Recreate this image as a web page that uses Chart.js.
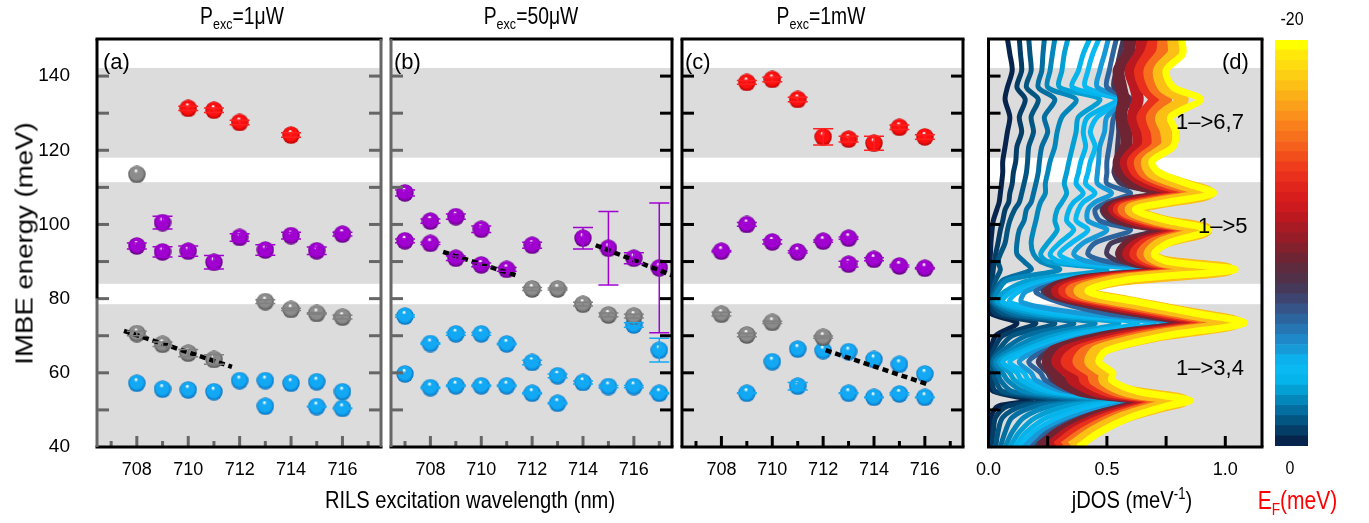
<!DOCTYPE html>
<html lang="en">
<head>
<meta charset="UTF-8">
<title>IMBE energy vs RILS wavelength and jDOS</title>
<script src="https://cdn.jsdelivr.net/npm/chart.js"></script>
<style>
  body { margin:0; background:#fff; width:1369px; height:523px; position:relative; overflow:hidden;
         font-family:'Liberation Sans', Arial, sans-serif; color:#000; }
  canvas { position:absolute; top:0; }
  .lbl { position:absolute; white-space:nowrap; line-height:1; }
  .nar { transform:scaleX(0.84); transform-origin:center; }
  sub { font-size:65%; vertical-align:-0.35em; line-height:0; }
  sup { font-size:65%; vertical-align:0.6em; line-height:0; }
</style>
</head>
<body>
<canvas id="pa" width="390" height="523" style="left:0px"></canvas>
<canvas id="pb" width="299" height="523" style="left:382px"></canvas>
<canvas id="pc" width="299" height="523" style="left:673px"></canvas>
<canvas id="pd" width="302" height="523" style="left:964px"></canvas>
<canvas id="cbar" width="33" height="406" style="left:1275px; top:40px"></canvas>

<div class="lbl nar" style="left:142px; width:200px; top:5px; text-align:center; font-size:23px">P<sub>exc</sub>=1μW</div>
<div class="lbl nar" style="left:431px; width:200px; top:5px; text-align:center; font-size:23px">P<sub>exc</sub>=50μW</div>
<div class="lbl nar" style="left:721px; width:200px; top:5px; text-align:center; font-size:23px">P<sub>exc</sub>=1mW</div>

<div class="lbl" style="left:-100px; width:250px; top:232px; text-align:center; font-size:23px;
     transform:rotate(-90deg) scaleX(1.2)">IMBE energy (meV)</div>

<div class="lbl" style="left:103px; top:51px; font-size:22px">(a)</div>
<div class="lbl" style="left:394px; top:51px; font-size:22px">(b)</div>
<div class="lbl" style="left:685px; top:51px; font-size:22px">(c)</div>
<div class="lbl" style="left:1222px; top:51px; font-size:22px">(d)</div>

<div class="lbl" style="left:1176px; top:111px; font-size:22px">1–&gt;6,7</div>
<div class="lbl" style="left:1198px; top:215px; font-size:22px">1–&gt;5</div>
<div class="lbl" style="left:1176px; top:357px; font-size:22px">1–&gt;3,4</div>

<div class="lbl nar" style="left:270px; width:400px; top:488px; text-align:center; font-size:24px">RILS excitation wavelength (nm)</div>
<div class="lbl nar" style="left:1032px; width:200px; top:488px; text-align:center; font-size:24px">jDOS (meV<sup>-1</sup>)</div>
<div class="lbl nar" style="left:1240px; width:115px; top:488px; text-align:center; font-size:25px; color:#ff0000">E<sub>F</sub>(meV)</div>
<div class="lbl nar" style="left:1262px; width:60px; top:9px; text-align:center; font-size:19px">-20</div>
<div class="lbl nar" style="left:1260px; width:60px; top:458px; text-align:center; font-size:19px">0</div>

<script>
// ---- data ----
// marker series: [wavelength nm, IMBE energy meV, error meV (null = no bar)]
const aRed = [[710,131.3,0.6],[711,130.8,0.6],[712,127.5,0.6],[714,124.1,0.6]];
const aGrayTop = [[708,113.5,null]];
const aPurple = [[708,94.2,0.8],[709,100.5,1.7],[709,92.6,1.4],[710,92.8,1.4],[711,89.8,1.8],
                 [712,96.5,1.0],[713,93.1,1.4],[714,97.0,0.9],[715,92.9,1.0],[716,97.4,0.5]];
const aGray = [[713,79.2,0.5],[714,77.1,0.3],[715,76.0,0.2],[716,75.0,0.5],
               [708,70.6,0.6],[709,67.7,0.6],[710,65.3,1.0],[711,63.6,1.3]];
const aBlue = [[708,57.2,null],[709,55.6,null],[710,55.4,null],[711,54.9,null],[712,57.9,null],
               [713,57.9,null],[713,51.0,null],[714,57.2,null],[715,57.6,null],[715,50.9,0.1],
               [716,54.9,null],[716,50.4,0.1]];
const aFit = [[707.5,71.3],[711.7,61.6]];

const bPurple = [[707,108.5,0.8],[707,95.6,0.5],[708,100.9,0.6],[708,94.9,0.3],[709,102.1,0.7],
                 [709,90.9,0.6],[710,98.7,0.9],[710,89.1,0.5],[711,87.9,0.5],[712,94.4,0.8],
                 [714,96.3,2.9],[715,93.6,9.9],[716,90.9,1.5],[717,88.3,17.5]];
const bGray = [[712,82.6,0.4],[713,82.6,0.3],[714,78.5,0.5],[715,75.6,0.5],[716,75.3,0.5]];
const bBlue = [[707,75.3,0.3],[707,59.7,null],[708,67.9,0.2],[708,56.0,0.2],[709,70.5,0.4],
               [709,56.5,0.2],[710,70.5,0.4],[710,56.5,0.2],[711,67.8,0.2],[711,56.5,0.2],
               [712,62.8,0.6],[712,54.5,0.2],[713,59.2,0.5],[713,51.8,0.2],[714,57.4,0.4],
               [715,56.3,0.3],[716,56.3,0.3],[716,72.9,0.6],[717,66.1,3.2],[717,54.5,0.2]];
const bFit1 = [[708.5,92.6],[711.45,86.1]];
const bFit2 = [[714.5,94.4],[717.6,86.0]];

const cRed = [[709,138.3,0.5],[710,139.1,0.6],[711,133.7,0.6],[712,123.6,2.2],[713,123.0,0.8],
              [714,121.9,1.9],[715,126.2,0.6],[716,123.6,0.6]];
const cPurple = [[708,92.8,0.2],[709,100.0,0.5],[710,95.3,0.6],[711,92.6,0.3],[712,95.5,0.3],
                 [713,96.3,0.3],[713,89.3,0.8],[714,90.6,0.4],[715,88.8,0.3],[716,88.2,0.2]];
const cGray = [[708,75.8,0.5],[709,70.2,0.5],[710,73.6,0.3],[712,69.6,0.3]];
const cBlue = [[710,63.0,null],[711,66.4,null],[712,66.0,null],[713,65.7,null],[714,63.6,null],
               [715,62.3,null],[716,59.7,null],[709,54.5,0.1],[711,56.4,1.0],[713,54.5,0.1],
               [714,53.4,0.1],[715,54.3,0.3],[716,53.4,0.1]];
const cFit = [[712.1,66.1],[716.2,56.7]];

// shaded energy windows (meV)
const bandRanges = [[40,78.5],[84,111.4],[118,142.2]];

// jDOS curves: energy grid (meV) and jDOS (1/meV) for each Fermi energy
const energy = [40,44,48,51,52.6,55,58,60,63,66,70,73.4,76,79,82,85,87.8,90,92,95,
                98.5,101,104,106,108.4,111,114,117,121,125,129,133.7,137,141.5,146,150];
const jdosEF0   = [0.0,0.005,0.01,0.04,0.18,0.02,0.005,0.005,0.005,0.01,0.03,0.12,0.01,0.005,0.005,0.005,0.006,0.006,0.008,0.01,0.015,0.02,0.035,0.045,0.05,0.055,0.06,0.06,0.07,0.08,0.09,0.07,0.08,0.10,0.09,0.08];
const jdosEF0p5 = [0.01,0.02,0.03,0.08,0.25,0.03,0.015,0.01,0.01,0.02,0.06,0.20,0.03,0.01,0.01,0.015,0.02,0.025,0.03,0.04,0.05,0.06,0.07,0.085,0.09,0.10,0.105,0.115,0.12,0.14,0.13,0.155,0.12,0.14,0.135,0.13];
const jdosEF1   = [0.03,0.04,0.06,0.14,0.32,0.06,0.03,0.02,0.015,0.04,0.10,0.28,0.06,0.015,0.02,0.03,0.05,0.04,0.05,0.07,0.08,0.09,0.11,0.13,0.14,0.15,0.16,0.165,0.17,0.19,0.18,0.21,0.16,0.18,0.175,0.17];
const jdosEF1p5 = [0.05,0.07,0.10,0.20,0.40,0.10,0.05,0.04,0.02,0.06,0.16,0.36,0.10,0.02,0.03,0.06,0.18,0.15,0.12,0.12,0.13,0.15,0.16,0.18,0.19,0.20,0.21,0.215,0.225,0.25,0.236,0.28,0.21,0.225,0.23,0.236];
const jdosEF2   = [0.07,0.10,0.15,0.26,0.46,0.15,0.08,0.06,0.03,0.09,0.22,0.45,0.15,0.03,0.04,0.08,0.30,0.22,0.19,0.18,0.19,0.20,0.21,0.22,0.24,0.24,0.25,0.26,0.28,0.29,0.31,0.37,0.25,0.26,0.27,0.28];
const jdosEF2p5 = [0.09,0.13,0.20,0.33,0.52,0.20,0.11,0.09,0.045,0.12,0.28,0.55,0.20,0.04,0.07,0.18,0.50,0.25,0.22,0.25,0.29,0.28,0.29,0.31,0.33,0.32,0.33,0.34,0.355,0.37,0.38,0.47,0.30,0.31,0.32,0.335];
const jdosEF3   = [0.11,0.16,0.25,0.40,0.57,0.25,0.14,0.12,0.06,0.15,0.33,0.63,0.26,0.06,0.10,0.25,0.62,0.30,0.26,0.30,0.36,0.33,0.34,0.36,0.40,0.37,0.38,0.39,0.41,0.40,0.42,0.54,0.355,0.38,0.40,0.427];
const jdosEF3p5 = [0.13,0.19,0.30,0.46,0.61,0.29,0.17,0.15,0.09,0.18,0.38,0.70,0.32,0.09,0.13,0.30,0.68,0.36,0.30,0.35,0.42,0.37,0.38,0.40,0.45,0.41,0.42,0.43,0.45,0.43,0.46,0.56,0.41,0.42,0.44,0.466];
const jdosEF4p5 = [0.15,0.22,0.35,0.52,0.64,0.32,0.20,0.18,0.13,0.21,0.42,0.76,0.40,0.14,0.16,0.34,0.74,0.42,0.36,0.40,0.50,0.42,0.42,0.45,0.52,0.46,0.46,0.465,0.47,0.49,0.50,0.58,0.46,0.47,0.49,0.506];
const jdosEF6   = [0.18,0.25,0.39,0.56,0.66,0.35,0.24,0.22,0.17,0.24,0.46,0.82,0.50,0.30,0.20,0.36,0.80,0.50,0.42,0.45,0.60,0.47,0.45,0.50,0.60,0.50,0.50,0.50,0.51,0.52,0.53,0.59,0.50,0.51,0.525,0.54];
const jdosEF7p5 = [0.20,0.28,0.42,0.59,0.68,0.38,0.27,0.25,0.21,0.26,0.49,0.86,0.60,0.36,0.23,0.38,0.85,0.56,0.50,0.52,0.70,0.52,0.48,0.54,0.70,0.56,0.53,0.54,0.545,0.55,0.55,0.60,0.53,0.54,0.555,0.57];
const jdosEF9   = [0.22,0.30,0.44,0.62,0.70,0.40,0.30,0.28,0.25,0.28,0.52,0.90,0.68,0.42,0.26,0.40,0.88,0.62,0.56,0.60,0.78,0.58,0.50,0.58,0.80,0.62,0.56,0.55,0.58,0.58,0.56,0.57,0.56,0.55,0.59,0.60];
const jdosEF11  = [0.26,0.34,0.48,0.65,0.73,0.46,0.36,0.34,0.29,0.33,0.58,0.94,0.73,0.47,0.29,0.44,0.92,0.66,0.59,0.64,0.84,0.63,0.53,0.63,0.85,0.68,0.60,0.58,0.63,0.63,0.61,0.63,0.62,0.60,0.64,0.65];
const jdosEF13  = [0.29,0.37,0.51,0.68,0.76,0.51,0.41,0.40,0.33,0.38,0.63,0.98,0.77,0.52,0.32,0.48,0.95,0.69,0.62,0.67,0.88,0.67,0.55,0.67,0.88,0.73,0.63,0.61,0.67,0.67,0.65,0.70,0.66,0.64,0.68,0.70];
const jdosEF15  = [0.32,0.41,0.54,0.70,0.79,0.55,0.45,0.44,0.38,0.42,0.67,1.01,0.81,0.56,0.35,0.52,0.98,0.72,0.65,0.70,0.90,0.70,0.57,0.70,0.91,0.77,0.66,0.64,0.71,0.71,0.69,0.75,0.70,0.68,0.73,0.74];
const jdosEF17p5= [0.35,0.44,0.57,0.73,0.82,0.59,0.49,0.49,0.43,0.46,0.71,1.045,0.85,0.60,0.385,0.55,1.01,0.74,0.68,0.73,0.92,0.73,0.60,0.73,0.93,0.81,0.69,0.67,0.75,0.75,0.73,0.82,0.74,0.72,0.78,0.78];
const jdosEF20  = [0.38,0.47,0.60,0.75,0.85,0.63,0.52,0.525,0.466,0.50,0.75,1.08,0.88,0.64,0.42,0.58,1.04,0.76,0.70,0.76,0.93,0.76,0.62,0.76,0.95,0.84,0.72,0.69,0.78,0.79,0.77,0.895,0.78,0.75,0.82,0.815];

const fermiLevels = [0,-0.5,-1,-1.5,-2,-2.5,-3,-3.5,-4.5,-6,-7.5,-9,-11,-13,-15,-17.5,-20];
const jdosCurves = [jdosEF0,jdosEF0p5,jdosEF1,jdosEF1p5,jdosEF2,jdosEF2p5,jdosEF3,jdosEF3p5,jdosEF4p5,
                    jdosEF6,jdosEF7p5,jdosEF9,jdosEF11,jdosEF13,jdosEF15,jdosEF17p5,jdosEF20];

// colour scale, E_F = 0 (bottom) ... -20 meV (top), 0.5 meV per step
const efPalette = ['#06244c','#043e66','#035682','#046ea0','#0488bc','#04a0d4','#06b4ec','#0ab8f2',
  '#0cb0ec','#169ad8','#1f88c8','#2676b4','#2c649e','#365488','#3e4470','#463858','#523048','#5e2a3e',
  '#6e2432','#82202c','#961c28','#a81a24','#bc1820','#cc1a1e','#d81e1c','#e0261c','#e8301c','#ee3c1c',
  '#f24e1c','#f5601c','#f7701c','#f9801c','#fb901c','#fba01a','#fbb018','#fcbf16','#fdcf14','#fedc10',
  '#ffe80a','#ffff00'];

// ---- drawing ----
Chart.defaults.font.family = "'Liberation Sans', Arial, sans-serif";
Chart.defaults.color = '#000';

function ball(color, dark) {
  const c = document.createElement('canvas');
  c.width = 18; c.height = 18;
  const g = c.getContext('2d');
  const grad = g.createRadialGradient(8, 5, 0.5, 9, 9, 9);
  grad.addColorStop(0, '#ffffff');
  grad.addColorStop(0.2, color);
  grad.addColorStop(0.7, color);
  grad.addColorStop(1, dark);
  g.fillStyle = grad;
  g.beginPath(); g.arc(9, 9, 8.7, 0, Math.PI * 2); g.fill();
  return c;
}
const redBall = ball('#ff1010', '#b00000');
const purpleBall = ball('#a000d0', '#5c0078');
const grayBall = ball('#8c8c8c', '#4c4c4c');
const blueBall = ball('#12a8f4', '#0a6cb8');

function markers(arr, img, errColor) {
  return { data: arr.map(p => ({x: p[0], y: p[1]})), errs: arr.map(p => p[2]), errColor,
           pointStyle: img, pointRadius: 8, showLine: false, order: 2 };
}
function fitLine(arr) {
  return { data: arr.map(p => ({x: p[0], y: p[1]})), showLine: true, borderColor: '#000',
           borderWidth: 4.5, borderDash: [6, 4], pointRadius: 0, order: 1 };
}

const framePlugin = {
  id: 'frame',
  beforeDatasetsDraw(chart) {
    const {ctx, chartArea: a, scales: {y}} = chart;
    ctx.save();
    ctx.fillStyle = '#dcdcdc';
    bandRanges.forEach(([lo, hi]) => {
      const t = y.getPixelForValue(hi), b = y.getPixelForValue(lo);
      ctx.fillRect(a.left, t, a.right - a.left, b - t);
    });
    ctx.restore();
  },
  afterDatasetsDraw(chart) {
    const {ctx, chartArea: a, scales: {x, y}} = chart;
    ctx.save();
    ctx.beginPath(); ctx.rect(a.left, a.top, a.right - a.left, a.bottom - a.top); ctx.clip();
    ctx.lineWidth = 1.5;
    chart.data.datasets.forEach(ds => {
      if (!ds.errs) return;
      ctx.strokeStyle = ds.errColor;
      ds.data.forEach((p, i) => {
        const e = ds.errs[i];
        if (e == null) return;
        const px = x.getPixelForValue(p.x);
        const y1 = y.getPixelForValue(p.y + e), y2 = y.getPixelForValue(p.y - e);
        ctx.beginPath();
        ctx.moveTo(px, y1); ctx.lineTo(px, y2);
        ctx.moveTo(px - 10, y1); ctx.lineTo(px + 10, y1);
        ctx.moveTo(px - 10, y2); ctx.lineTo(px + 10, y2);
        ctx.stroke();
      });
    });
    ctx.restore();
  },
  afterDraw(chart, args, o) {
    const {ctx, chartArea: a, scales: {x, y}} = chart;
    const seg = (x1, y1, x2, y2, c, w) => {
      ctx.strokeStyle = c; ctx.lineWidth = w;
      ctx.beginPath(); ctx.moveTo(x1, y1); ctx.lineTo(x2, y2); ctx.stroke();
    };
    ctx.save();
    y.ticks.forEach(t => {
      if (t.value <= y.min || t.value >= y.max) return;
      const py = y.getPixelForValue(t.value);
      if (o.tickL) seg(a.left, py, a.left + 12, py, o.tickL, 3);
      if (o.tickR) seg(a.right - 12, py, a.right, py, o.tickR, 3);
    });
    x.ticks.forEach(t => {
      if (t.value <= x.min + 1e-6 || t.value >= x.max - 1e-6) return;
      const px = x.getPixelForValue(t.value);
      const len = o.isMajor(t.value) ? 11 : 6;
      seg(px, a.bottom, px, a.bottom - len, o.tickB, 3);
    });
    seg(a.left - 1.5, a.top, a.right + 1.5, a.top, '#000', 3);
    seg(a.left - 1.5, a.bottom, a.right + 1.5, a.bottom, '#000', 3);
    seg(a.right, a.top, a.right, a.bottom, o.right, 3);
    if (o.leftSplit) {
      const ps = y.getPixelForValue(o.leftSplit);
      seg(a.left, a.top, a.left, ps, o.left, 3);
      seg(a.left, ps, a.left, a.bottom, o.leftLow, 3);
    } else {
      seg(a.left, a.top, a.left, a.bottom, o.left, 3);
    }
    ctx.restore();
  }
};

const evenNm = v => Math.abs(v % 2) < 1e-6;

function wavePanel(id, datasets, frame, withY) {
  return new Chart(document.getElementById(id), {
    type: 'scatter',
    data: { datasets },
    options: {
      responsive: false, animation: false, devicePixelRatio: 1, events: [],
      layout: { padding: { top: 39, right: 4, left: withY ? 0 : 4, bottom: 0 } },
      plugins: { legend: { display: false }, tooltip: { enabled: false }, frame },
      scales: {
        x: {
          min: 706.45, max: 717.5,
          afterFit: s => { s.height = 76; },
          grid: { display: false, drawTicks: false },
          border: { display: false },
          ticks: { stepSize: 1, includeBounds: false, autoSkip: false, maxRotation: 0, padding: 12,
                   font: { size: 18 }, callback: v => evenNm(v) ? String(v) : '' }
        },
        y: {
          min: 40, max: 150,
          afterFit: s => { s.width = withY ? 97 : 0; },
          grid: { display: false, drawTicks: false },
          border: { display: false },
          ticks: { display: withY, stepSize: 10, padding: 27, font: { size: 19 },
                   callback: v => (v % 20 === 0 && v < 150) ? String(v) : '' }
        }
      }
    },
    plugins: [framePlugin]
  });
}

wavePanel('pa', [
  fitLine(aFit),
  markers(aRed, redBall, '#ff2020'), markers(aGrayTop, grayBall, '#808080'),
  markers(aPurple, purpleBall, '#a000d0'), markers(aGray, grayBall, '#808080'),
  markers(aBlue, blueBall, '#12a8f4')
], { left: '#000', leftSplit: 80, leftLow: '#666', right: '#666', tickL: '#666', tickR: '#666',
     tickB: '#666', isMajor: evenNm }, true);

wavePanel('pb', [
  fitLine(bFit1), fitLine(bFit2),
  markers(bPurple, purpleBall, '#a000d0'), markers(bGray, grayBall, '#808080'),
  markers(bBlue, blueBall, '#12a8f4')
], { left: '#666', right: '#000', tickL: '#666', tickR: '#000', tickB: '#666', isMajor: evenNm }, false);

wavePanel('pc', [
  fitLine(cFit),
  markers(cRed, redBall, '#ff2020'), markers(cPurple, purpleBall, '#a000d0'),
  markers(cGray, grayBall, '#808080'), markers(cBlue, blueBall, '#12a8f4')
], { left: '#000', right: '#000', tickL: '#000', tickR: '#000', tickB: '#000', isMajor: evenNm }, false);

// jDOS panel
const curveSets = jdosCurves.map((arr, i) => {
  const ef = fermiLevels[i];
  const warm = ef <= -9;
  return {
    data: arr.map((v, k) => ({x: v, y: energy[k]})),
    showLine: true, pointRadius: 0, tension: 0.3,
    borderColor: efPalette[Math.min(39, Math.floor(-ef * 2))],
    borderWidth: ef === -20 ? 7 : (warm ? 12 : 5)
  };
}).reverse();

new Chart(document.getElementById('pd'), {
  type: 'scatter',
  data: { datasets: curveSets },
  options: {
    responsive: false, animation: false, devicePixelRatio: 1, events: [],
    layout: { padding: { top: 39, right: 4, left: 4, bottom: 0 } },
    plugins: { legend: { display: false }, tooltip: { enabled: false },
               frame: { left: '#000', right: '#000', tickL: '#000', tickR: null, tickB: '#000', isMajor: () => true } },
    scales: {
      x: {
        min: 0, max: 1.155,
        afterFit: s => { s.height = 76; },
        grid: { display: false, drawTicks: false },
        border: { display: false },
        ticks: { stepSize: 0.25, includeBounds: false, autoSkip: false, maxRotation: 0, padding: 12,
                 font: { size: 18 },
                 callback: v => Math.abs(v * 2 - Math.round(v * 2)) < 1e-6 ? v.toFixed(1) : '' }
      },
      y: {
        min: 40, max: 150,
        afterFit: s => { s.width = 0; },
        grid: { display: false, drawTicks: false }, border: { display: false },
        ticks: { display: false, stepSize: 10 }
      }
    }
  },
  plugins: [framePlugin]
});

// colour bar
new Chart(document.getElementById('cbar'), {
  type: 'bar',
  data: {
    labels: ['EF'],
    datasets: efPalette.map(c => ({ data: [0.5], backgroundColor: c, borderWidth: 0,
                                    barPercentage: 1, categoryPercentage: 1 }))
  },
  options: {
    responsive: false, animation: false, devicePixelRatio: 1, events: [],
    layout: { padding: 0 },
    plugins: { legend: { display: false }, tooltip: { enabled: false } },
    scales: {
      x: { display: false, stacked: true },
      y: { display: false, stacked: true, min: 0, max: 20 }
    }
  }
});
</script>
</body>
</html>
